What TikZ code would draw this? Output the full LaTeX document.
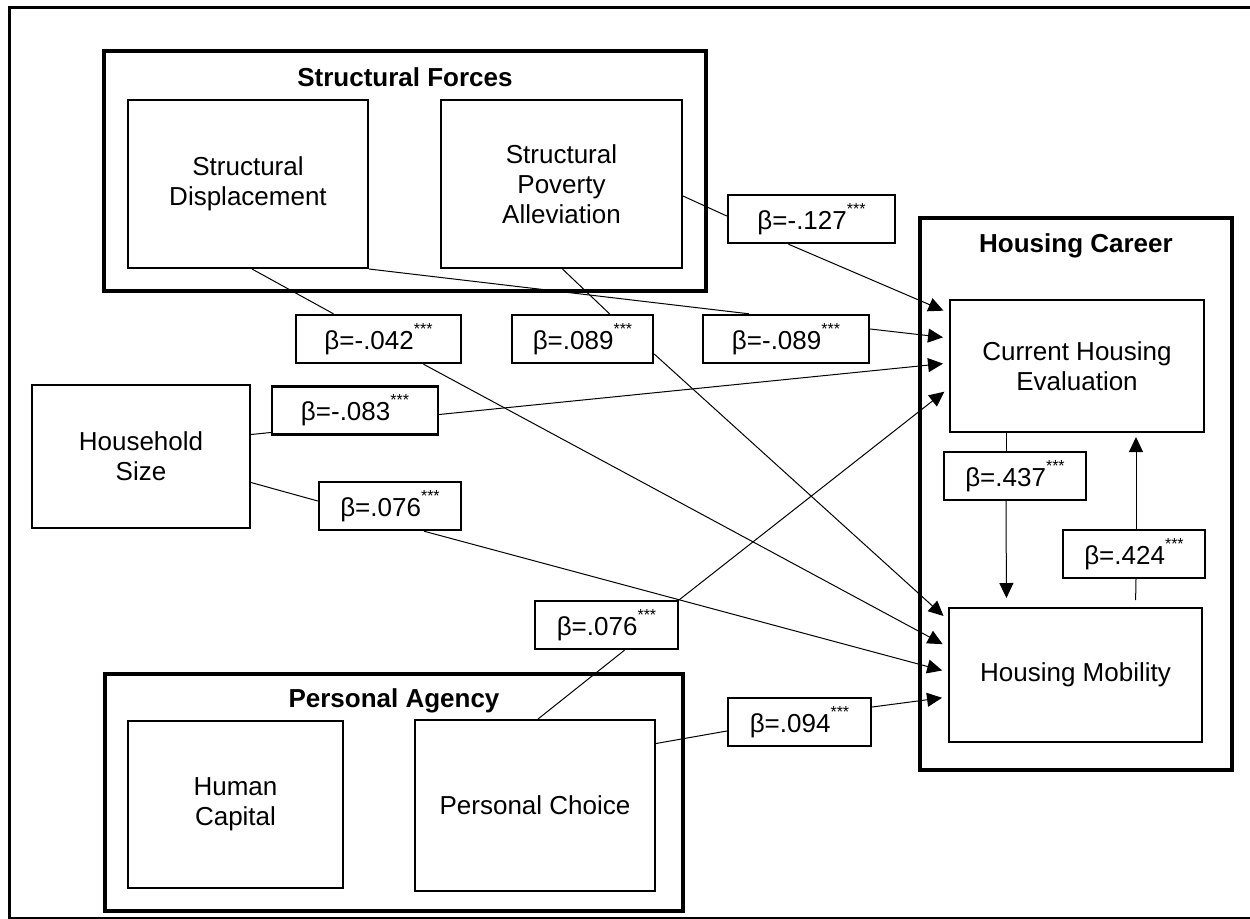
\documentclass[tikz,border=0pt]{standalone}
\usepackage{fontspec}
\setmainfont{Liberation Sans}
\usetikzlibrary{arrows.meta}
\newcommand{\diagfont}{\fontsize{13}{15}\selectfont}
\newcommand{\coef}[1]{β=#1\raisebox{1.1ex}{\fontsize{8}{8}\selectfont ***}}
\tikzset{
  boxsize/.style 2 args={minimum width=#1*0.5pt, minimum height=#2*0.5pt},
  groupbox/.style={draw, line width=2pt, inner sep=0pt},
  grouptitle/.style={anchor=base, inner sep=0pt, font=\diagfont\bfseries},
  varbox/.style={draw, line width=1pt, inner sep=0pt, align=center},
  coefbox/.style={draw, line width=1.2pt, inner sep=0pt, boxsize={#1}{48}},
  link/.style={line width=0.5pt},
  arrowlink/.style={link, -{Triangle[length=7.5pt,width=7pt]}, shorten >=3pt},
}
\begin{document}
\begin{tikzpicture}[x=0.5pt, y=-0.5pt, font=\diagfont]
\useasboundingbox (0,0) rectangle (1250,918);
% Outer frame
\draw[line width=1.5pt] (9,7) rectangle (1253,918);
% Structural forces
\node[groupbox, boxsize={602}{240}] (sforces) at (405,171) {};
\node[grouptitle] (sftitle) at ([shift={(0,37)}]sforces.north) {Structural Forces};
\node[varbox, boxsize={240}{168}] (sdisp) at (248,184) {Structural\\Displacement};
\node[varbox, boxsize={241}{168}] (spov) at (561.5,184) {Structural\\Poverty\\Alleviation};
% Housing career
\node[groupbox, boxsize={312}{552}] (hcareer) at (1076,494) {};
\node[grouptitle] (hctitle) at ([shift={(0,36)}]hcareer.north) {Housing Career};
\node[varbox, boxsize={254}{132}] (che) at (1077,366) {Current Housing\\Evaluation};
\node[varbox, boxsize={253}{134}] (hmob) at (1075.5,675) {Housing Mobility};
% Household size
\node[varbox, boxsize={218}{143}] (hsize) at (141,456.5) {Household\\Size};
% Personal agency
\node[groupbox, boxsize={578}{237}] (pagency) at (394,792.5) {};
\node[grouptitle] (patitle) at ([shift={(0,35)}]pagency.north) {Personal Agency};
\node[varbox, boxsize={215}{167}] (hcap) at (235.5,804.5) {Human\\Capital};
\node[varbox, boxsize={240}{171}] (pchoice) at (535,805.5) {Personal Choice};
% Path coefficients
\node[coefbox=167] (b127) at (811.5,219) {\coef{-.127}};
\node[coefbox=165] (b042) at (378.5,339) {\coef{-.042}};
\node[coefbox=141] (b089p) at (582.5,339) {\coef{.089}};
\node[coefbox=166] (b089n) at (786,339) {\coef{-.089}};
\node[coefbox=166] (b083) at (355,410.5) {\coef{-.083}};
\node[coefbox=142] (b076h) at (390,506) {\coef{.076}};
\node[coefbox=143] (b076p) at (606.5,625) {\coef{.076}};
\node[coefbox=143] (b094) at (799.5,722) {\coef{.094}};
\node[coefbox=142] (b437) at (1015,476) {\coef{.437}};
\node[coefbox=142] (b424) at (1134,554) {\coef{.424}};
% Lines into the coefficient boxes
\draw[link] ([shift={(4,0)}]sdisp.south) -- ([shift={(-45,0)}]b042.north);
\draw[link] (sdisp.south east) -- ([shift={(-37,0)}]b089n.north);
\draw[link] ([shift={(1,0)}]spov.south) -- ([shift={(27,0)}]b089p.north);
\draw[link] ([shift={(0,12)}]spov.east) -- ([shift={(0,-3)}]b127.west);
\draw[link] ([shift={(0,-22)}]hsize.east) -- ([shift={(0,22)}]b083.west);
\draw[link] ([shift={(0,26)}]hsize.east) -- ([shift={(0,-5)}]b076h.west);
\draw[link] ([shift={(3,0)}]pchoice.north) -- ([shift={(18,0)}]b076p.south);
\draw[link] ([shift={(0,-62)}]pchoice.east) -- ([shift={(0,9)}]b094.west);
% Into current housing evaluation
\draw[arrowlink] ([shift={(-23,0)}]b127.south) -- ([shift={(0,-53)}]che.west);
\draw[arrowlink] ([shift={(0,-10)}]b089n.east) -- ([shift={(0,-28)}]che.west);
\draw[arrowlink] ([shift={(0,4)}]b083.east) -- ([shift={(0,-3)}]che.west);
\draw[arrowlink] (b076p.north east) -- ([shift={(0,22)}]che.west);
% Into housing mobility
\draw[arrowlink] ([shift={(0,15)}]b089p.east) -- ([shift={(0,-55)}]hmob.west);
\draw[arrowlink] ([shift={(45,0)}]b042.south) -- ([shift={(0,-28)}]hmob.west);
\draw[arrowlink] ([shift={(34,0)}]b076h.south) -- ([shift={(0,-3)}]hmob.west);
\draw[arrowlink] ([shift={(0,-15)}]b094.east) -- ([shift={(0,22)}]hmob.west);
% Between evaluation and mobility
\draw[link] ([shift={(-71,0)}]che.south) -- ([shift={(-9,0)}]b437.north);
\draw[arrowlink, shorten >=4.5pt] ([shift={(-9,0)}]b437.south) -- ([shift={(-69,0)}]hmob.north);
\draw[link, shorten <=3.5pt] ([shift={(60,0)}]hmob.north) -- ([shift={(2,0)}]b424.south);
\draw[arrowlink, shorten >=2pt] ([shift={(2,0)}]b424.north) -- ([shift={(59,0)}]che.south);
\end{tikzpicture}
\end{document}
